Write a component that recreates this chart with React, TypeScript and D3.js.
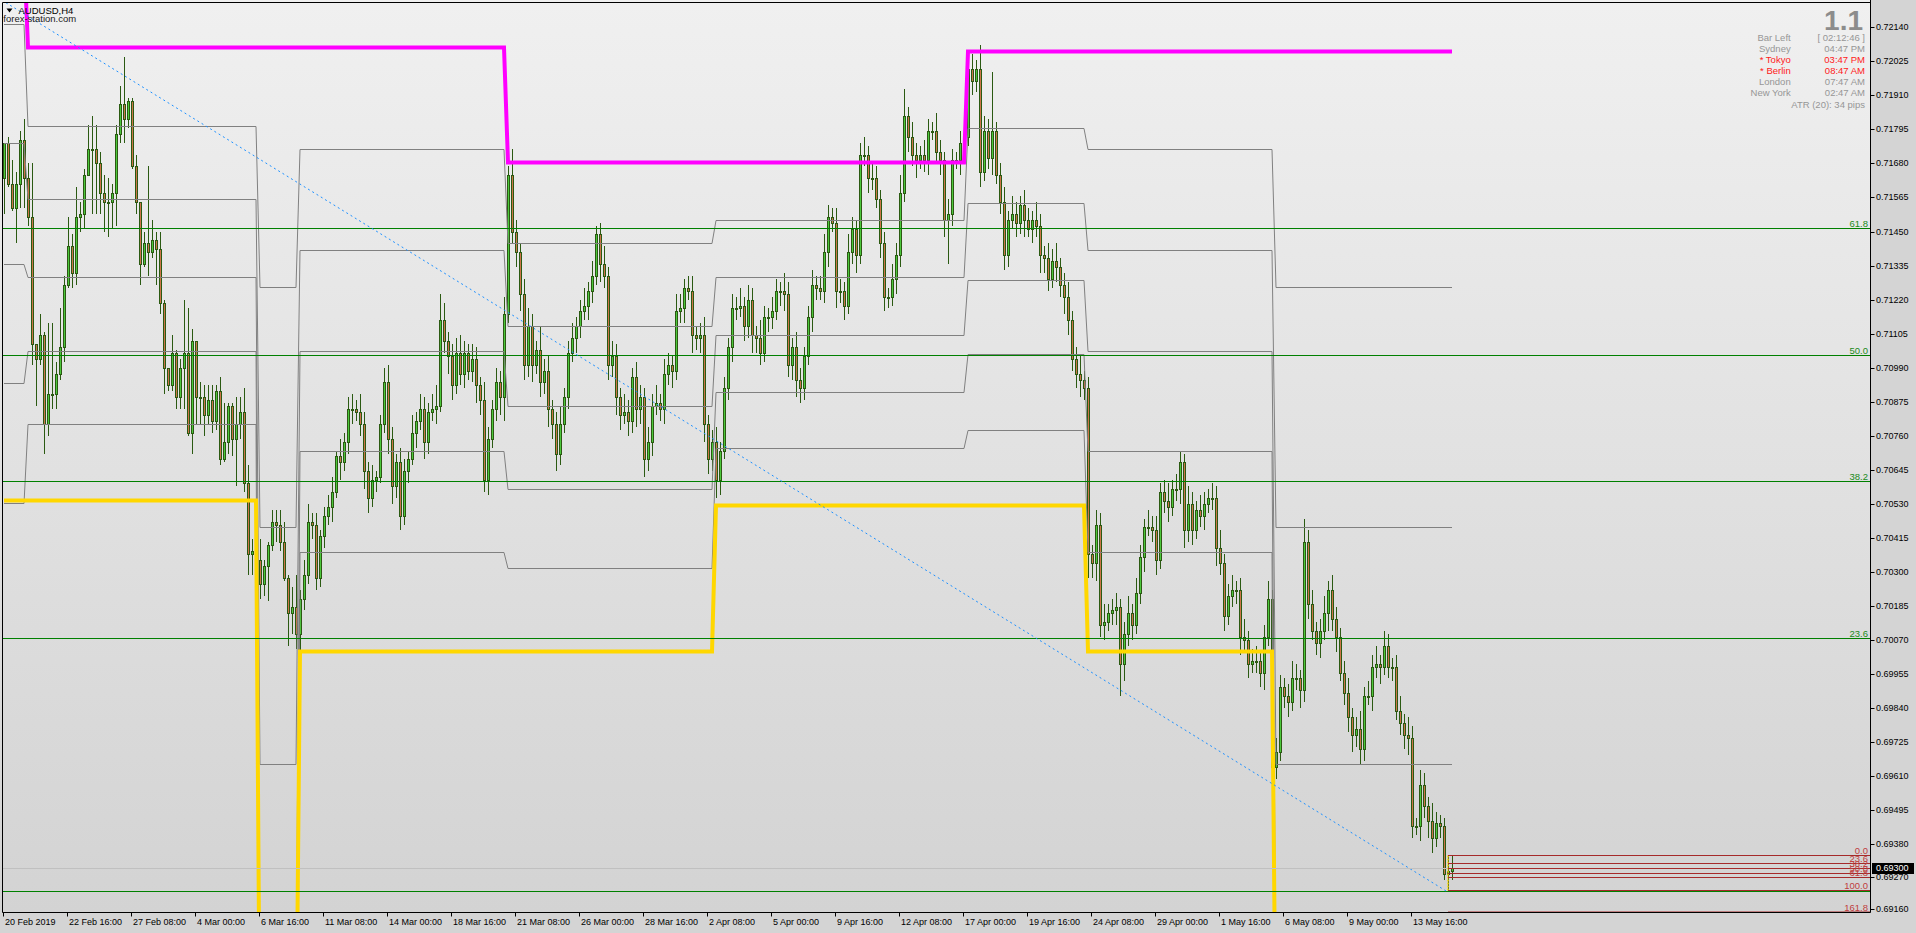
import React, { useEffect, useRef } from 'react'
import * as d3 from 'd3'

const W = 1916
const H = 933
const plot = { left: 2.5, top: 2.5, right: 1870.5, bottom: 912.5 }
const font = "'Liberation Sans', Arial, sans-serif"

// candle values are pips above BASE (AUDUSD H4)
const BASE = 0.69
const firstOpen = 263
const closes = [
  275, 261, 253, 261, 276, 263, 250, 207, 202, 210,
  180, 190, 190, 197, 206, 227, 240, 231, 250, 251,
  264, 273, 273, 268, 258, 255, 255, 258, 278, 288,
  283, 289, 267, 255, 234, 241, 238, 242, 239, 221,
  199, 193, 204, 189, 199, 204, 177, 208, 189, 189,
  183, 188, 181, 191, 168, 174, 186, 175, 180, 184,
  160, 136, 137, 134, 126, 132, 139, 147, 146, 140,
  128, 116, 118, 109, 121, 129, 147, 146, 128, 142,
  149, 152, 157, 169, 167, 174, 185, 185, 184, 180,
  164, 155, 161, 162, 180, 194, 175, 159, 167, 149,
  164, 168, 177, 181, 185, 174, 184, 185, 186, 215,
  208, 203, 193, 204, 197, 204, 198, 202, 193, 188,
  161, 175, 185, 194, 189, 217, 264, 245, 238, 224,
  200, 213, 200, 205, 194, 198, 185, 180, 170, 180,
  189, 204, 209, 213, 218, 220, 225, 230, 244, 234,
  230, 200, 203, 189, 183, 184, 181, 196, 185, 189,
  168, 174, 186, 187, 185, 197, 200, 198, 218, 219,
  226, 225, 210, 209, 210, 180, 168, 174, 161, 171,
  192, 206, 219, 219, 220, 213, 222, 210, 209, 204,
  216, 216, 218, 225, 225, 224, 200, 206, 195, 192,
  203, 216, 227, 226, 225, 238, 250, 248, 225, 225,
  220, 238, 246, 237, 271, 271, 263, 263, 256, 241,
  223, 223, 229, 237, 258, 284, 277, 271, 269, 271,
  269, 279, 279, 272, 269, 249, 251, 269, 269, 275,
  277, 300, 296, 300, 265, 279, 270, 279, 264, 255,
  237, 249, 251, 248, 254, 249, 246, 249, 247, 237,
  236, 229, 235, 233, 227, 223, 215, 202, 197, 195,
  192, 136, 133, 146, 112, 113, 116, 117, 118, 99,
  109, 116, 112, 123, 135, 145, 145, 144, 134, 157,
  154, 152, 158, 158, 167, 144, 153, 144, 151, 149,
  153, 155, 155, 138, 133, 115, 122, 124, 124, 108,
  107, 99, 100, 100, 96, 108, 121, 64, 69, 91,
  88, 86, 94, 94, 90, 140, 119, 110, 106, 110,
  116, 124, 114, 108, 96, 89, 81, 75, 77, 70,
  88, 88, 98, 99, 98, 105, 98, 98, 83, 79,
  75, 74, 44, 44, 58, 51, 46, 40, 45, 44,
  28, 29, 30
]
const wickUp = [
  0, 2, 8, 4, 3, 7, 5, 18, 0, 7, 1, 24, 24, 4, 13, 3, 10, 4, 10, 4,
  2, 8, 11, 8, 4, 6, 8, 3, 3, 6, 16, 1, 1, 4, 0, 4, 26, 7, 3, 6,
  1, 0, 6, 1, 3, 18, 15, 4, 0, 5, 4, 5, 5, 2, 5, 13, 1, 1, 9, 5,
  8, 6, 4, 3, 7, 2, 1, 4, 4, 5, 7, 1, 7, 11, 3, 5, 6, 3, 4, 2,
  3, 4, 5, 2, 6, 3, 4, 5, 3, 6, 4, 3, 5, 2, 3, 5, 6, 4, 3, 5,
  4, 3, 6, 3, 5, 4, 3, 5, 7, 9, 6, 3, 4, 5, 6, 4, 3, 5, 4, 3,
  6, 4, 3, 5, 4, 6, 3, 9, 4, 3, 5, 6, 4, 3, 8, 4, 5, 3, 4, 6,
  3, 4, 5, 3, 4, 6, 3, 5, 3, 4, 6, 3, 5, 4, 3, 6, 4, 3, 5, 4,
  3, 5, 4, 6, 3, 5, 4, 3, 6, 5, 3, 4, 5, 3, 4, 6, 3, 4, 5, 3,
  4, 3, 5, 4, 6, 3, 5, 4, 3, 6, 4, 3, 5, 4, 3, 6, 4, 3, 5, 4,
  3, 4, 5, 3, 4, 6, 4, 3, 5, 4, 3, 6, 4, 3, 4, 6, 3, 5, 4, 3,
  4, 3, 5, 4, 6, 9, 3, 5, 4, 3, 5, 4, 3, 6, 4, 3, 5, 4, 3, 4,
  6, 4, 5, 3, 8, 5, 4, 20, 3, 4, 5, 3, 6, 4, 3, 5, 4, 3, 6, 4,
  3, 5, 4, 6, 3, 4, 5, 3, 4, 6, 3, 4, 3, 5, 4, 6, 3, 4, 5, 3,
  4, 6, 3, 5, 4, 3, 6, 4, 5, 3, 4, 6, 3, 5, 4, 3, 6, 4, 3, 5,
  4, 3, 5, 4, 6, 3, 4, 5, 3, 4, 6, 3, 4, 5, 3, 4, 6, 3, 5, 4,
  3, 4, 6, 5, 3, 8, 4, 5, 3, 4, 6, 3, 5, 4, 3, 4, 5, 3, 4, 6,
  3, 5, 4, 6, 3, 5, 4, 3, 4, 5, 3, 6, 4, 3, 5, 4, 3, 6, 4, 3,
  3, 5, 4
]
const wickDown = [
  12, 1, 1, 12, 8, 10, 3, 7, 16, 2, 10, 4, 5, 5, 2, 5, 1, 5, 4, 5,
  5, 0, 22, 17, 7, 10, 12, 9, 11, 3, 8, 3, 1, 4, 7, 1, 8, 2, 12, 4,
  9, 2, 2, 4, 4, 14, 1, 7, 9, 9, 7, 3, 4, 3, 2, 1, 4, 6, 16, 5,
  3, 7, 7, 5, 5, 4, 12, 2, 6, 3, 1, 11, 7, 5, 6, 4, 3, 5, 4, 3,
  4, 3, 5, 2, 6, 3, 4, 5, 3, 4, 6, 5, 3, 4, 2, 3, 5, 6, 4, 5,
  3, 4, 2, 5, 3, 6, 4, 3, 5, 2, 4, 6, 5, 3, 4, 5, 3, 4, 6, 5,
  4, 5, 3, 4, 6, 8, 3, 4, 5, 6, 5, 4, 6, 3, 5, 4, 6, 5, 6, 4,
  3, 4, 3, 5, 4, 3, 5, 4, 3, 6, 4, 5, 4, 6, 5, 3, 5, 4, 6, 5,
  6, 4, 5, 3, 4, 5, 4, 6, 3, 4, 5, 3, 6, 4, 5, 6, 5, 4, 6, 5,
  3, 4, 5, 4, 3, 5, 4, 6, 5, 4, 3, 5, 4, 3, 5, 6, 4, 5, 6, 5,
  4, 3, 5, 4, 3, 4, 5, 3, 6, 4, 5, 3, 4, 6, 3, 4, 5, 4, 3, 5,
  5, 4, 3, 5, 4, 3, 5, 4, 6, 3, 4, 5, 3, 4, 5, 6, 15, 4, 3, 5,
  4, 3, 5, 4, 5, 3, 4, 6, 3, 4, 5, 4, 3, 5, 4, 6, 3, 5, 4, 6,
  5, 4, 3, 5, 4, 6, 5, 4, 5, 6, 4, 8, 5, 6, 4, 5, 3, 4, 5, 11,
  6, 4, 5, 3, 4, 5, 3, 4, 5, 3, 4, 5, 3, 4, 5, 6, 4, 5, 3, 4,
  5, 3, 4, 6, 4, 5, 3, 4, 5, 6, 4, 5, 3, 4, 5, 6, 3, 5, 4, 3,
  4, 5, 3, 4, 6, 4, 5, 3, 4, 5, 3, 6, 4, 5, 3, 4, 5, 6, 4, 5,
  4, 3, 5, 4, 6, 3, 4, 5, 3, 4, 5, 6, 4, 3, 5, 4, 6, 5, 3, 4,
  2, 6, 3
]

// period indicator levels (first bar of each period)
const periodStarts = [0, 6, 64, 74, 126, 178, 241, 271, 318]
const periodHigh = [0.7240, 0.72072, 0.72072, 0.72072, 0.71685, 0.71685, 0.72060, 0.72060, 0.72060]
const periodLow = [0.70543, 0.70543, 0.6860, 0.70033, 0.70033, 0.70526, 0.70526, 0.70033, 0.6860]
const band1 = [0.72150, 0.71808, 0.71263, 0.71730, 0.71412, 0.71488, 0.71800, 0.71730, 0.71263]
const band2 = [0.71748, 0.71559, 0.70452, 0.71388, 0.71130, 0.71297, 0.71548, 0.71388, 0.70452]
const band3 = [0.71339, 0.71297, 0.69651, 0.71046, 0.70861, 0.71100, 0.71287, 0.71046, 0.69651]
const band4 = [0.70939, 0.71046, 0.68840, 0.70710, 0.70579, 0.70909, 0.71036, 0.70710, 0.68840]
const band5 = [0.70533, 0.70800, 0.68030, 0.70368, 0.70312, 0.70720, 0.70780, 0.70368, 0.68030]

// fibonacci objects
const bigFibLow = 0.69222
const bigFibHigh = 0.72844
const bigFibLevels = [23.6, 38.2, 50.0, 61.8]
const smallFibHigh = 0.69343
const smallFibLow = 0.69225
const smallFibLevels = [0.0, 23.6, 38.2, 50.0, 61.8, 100.0, 161.8]
const trendFrom = { bar: -74, price: 0.72844 }
const trendTo = { bar: 360.5, price: 0.69222 }
const bidPrice = 0.693

const priceTicks = ['0.72140', '0.72025', '0.71910', '0.71795', '0.71680', '0.71565', '0.71450', '0.71335', '0.71220',
  '0.71105', '0.70990', '0.70875', '0.70760', '0.70645', '0.70530', '0.70415', '0.70300', '0.70185', '0.70070',
  '0.69955', '0.69840', '0.69725', '0.69610', '0.69495', '0.69380', '0.69270', '0.69160']
const dateLabels = ['20 Feb 2019', '22 Feb 16:00', '27 Feb 08:00', '4 Mar 00:00', '6 Mar 16:00', '11 Mar 08:00',
  '14 Mar 00:00', '18 Mar 16:00', '21 Mar 08:00', '26 Mar 00:00', '28 Mar 16:00', '2 Apr 08:00', '5 Apr 00:00',
  '9 Apr 16:00', '12 Apr 08:00', '17 Apr 00:00', '19 Apr 16:00', '24 Apr 08:00', '29 Apr 00:00', '1 May 16:00',
  '6 May 08:00', '9 May 00:00', '13 May 16:00']
const sessionNames = ['Bar Left', 'Sydney', '* Tokyo', '* Berlin', 'London', 'New York']
const sessionTimes = ['[ 02:12:46 ]', '04:47 PM', '03:47 PM', '08:47 AM', '07:47 AM', '02:47 AM']
const sessionOpen = [false, false, true, true, false, false]

function draw(el: SVGSVGElement | null) {
  if (!el) return
  const svgRoot = d3.select(el)
  svgRoot.selectAll('*').remove()

  const n = closes.length
  const x = d3.scaleLinear().domain([0, n - 1]).range([4, 1452])
  const y = d3.scaleLinear().domain([0.6916, 0.7214]).range([909.3, 27.3])
  const px = (p: number) => BASE + p / 10000
  const crisp = (v: number) => Math.round(v) + 0.5

  const defs = svgRoot.append('defs')
  const grad = defs.append('linearGradient').attr('id', 'bg').attr('x1', 0).attr('y1', 0).attr('x2', 0).attr('y2', 1)
  grad.append('stop').attr('offset', '0%').attr('stop-color', '#f0f0f0')
  grad.append('stop').attr('offset', '100%').attr('stop-color', '#d3d3d3')
  defs.append('clipPath').attr('id', 'plotClip').append('rect')
    .attr('x', plot.left).attr('y', plot.top)
    .attr('width', plot.right - plot.left).attr('height', plot.bottom - plot.top)

  svgRoot.append('rect').attr('width', W).attr('height', H).attr('fill', '#d4d4d4')
  svgRoot.append('rect').attr('width', plot.right).attr('height', plot.bottom).attr('fill', 'url(#bg)')

  const g = svgRoot.append('g').attr('clip-path', 'url(#plotClip)')

  // candles
  const bars = closes.map((c, i) => {
    const o = i === 0 ? firstOpen : closes[i - 1]
    const hi = Math.max(o, c) + (wickUp[i] ?? 3)
    const lo = Math.min(o, c) - (wickDown[i] ?? 3)
    return { i, o: px(o), c: px(c), h: px(hi), l: px(lo) }
  })
  const cg = g.append('g')
  cg.selectAll('line.wick').data(bars).enter().append('line')
    .attr('x1', d => Math.round(x(d.i)) + 0.5).attr('x2', d => Math.round(x(d.i)) + 0.5)
    .attr('y1', d => Math.round(y(d.h))).attr('y2', d => Math.round(y(d.l)))
    .attr('stroke', '#2b5a12').attr('stroke-width', 1)
  cg.selectAll('rect.body').data(bars).enter().append('rect')
    .attr('x', d => Math.round(x(d.i)) - 0.5)
    .attr('y', d => Math.round(y(Math.max(d.o, d.c))) + 0.5)
    .attr('width', 2)
    .attr('height', d => Math.max(1, Math.round(y(Math.min(d.o, d.c))) - Math.round(y(Math.max(d.o, d.c)))))
    .attr('fill', d => (d.c >= d.o ? '#4cc83c' : '#cc7448'))
    .attr('stroke', '#2b5a12').attr('stroke-width', 1)

  // period step lines
  const periodOf = (i: number) => d3.bisectRight(periodStarts, i) - 1
  const idx = d3.range(n)
  const stepLine = (levels: number[]) =>
    d3.line<number>().x(i => x(i)).y(i => crisp(y(levels[periodOf(i)])))(idx)

  ;[band1, band2, band3, band4, band5].forEach(b => {
    g.append('path').attr('d', stepLine(b)).attr('fill', 'none').attr('stroke', '#808080').attr('stroke-width', 1)
  })
  g.append('path').attr('d', stepLine(periodLow)).attr('fill', 'none').attr('stroke', '#ffd700').attr('stroke-width', 4)
  g.append('path').attr('d', stepLine(periodHigh)).attr('fill', 'none').attr('stroke', '#ff00ff').attr('stroke-width', 4)

  // big fibonacci (green)
  const bigY = (lv: number) => crisp(y(bigFibLow + (bigFibHigh - bigFibLow) * lv / 100))
  g.append('line').attr('x1', plot.left).attr('x2', plot.right).attr('y1', bigY(0)).attr('y2', bigY(0))
    .attr('stroke', '#008000')
  g.selectAll('line.bigfib').data(bigFibLevels).enter().append('line')
    .attr('x1', plot.left).attr('x2', plot.right)
    .attr('y1', d => bigY(d)).attr('y2', d => bigY(d))
    .attr('stroke', '#008000').attr('stroke-width', 1)
  g.selectAll('text.bigfib').data(bigFibLevels).enter().append('text')
    .attr('x', 1868).attr('y', d => bigY(d) - 2)
    .attr('text-anchor', 'end').attr('font-family', font).attr('font-size', 9.5)
    .attr('fill', '#208a20').text(d => d.toFixed(1))

  // trend line
  g.append('line')
    .attr('x1', x(trendFrom.bar)).attr('y1', y(trendFrom.price))
    .attr('x2', x(trendTo.bar)).attr('y2', y(trendTo.price))
    .attr('stroke', '#1e90ff').attr('stroke-width', 1).attr('stroke-dasharray', '2,3')

  // bid line
  g.append('line').attr('x1', plot.left).attr('x2', plot.right)
    .attr('y1', crisp(y(bidPrice))).attr('y2', crisp(y(bidPrice)))
    .attr('stroke', '#c0c0c0').attr('stroke-width', 1)

  // small fibonacci (red)
  const smallY = (lv: number) => crisp(y(smallFibHigh - (smallFibHigh - smallFibLow) * lv / 100))
  const sx = x(n - 2)
  g.append('line').attr('x1', sx).attr('x2', sx).attr('y1', smallY(0)).attr('y2', smallY(100))
    .attr('stroke', '#ffd700').attr('stroke-width', 1.5).attr('stroke-dasharray', '2,1')
  g.selectAll('line.smallfib').data(smallFibLevels).enter().append('line')
    .attr('x1', sx).attr('x2', plot.right)
    .attr('y1', d => smallY(d)).attr('y2', d => smallY(d))
    .attr('stroke', '#a52a2a').attr('stroke-width', d => (d === 161.8 ? 2 : 1))
  g.selectAll('text.smallfib').data(smallFibLevels).enter().append('text')
    .attr('x', 1868).attr('y', d => smallY(d) - 2)
    .attr('text-anchor', 'end').attr('font-family', font).attr('font-size', 9.5)
    .attr('fill', '#c04040').text(d => d.toFixed(1))

  // frame
  svgRoot.append('path')
    .attr('d', `M${plot.right},${plot.bottom}H${plot.left}V${plot.top}H${plot.right}`)
    .attr('fill', 'none').attr('stroke', '#000').attr('stroke-width', 1)
  svgRoot.append('line').attr('x1', plot.right).attr('x2', plot.right).attr('y1', 0).attr('y2', plot.bottom)
    .attr('stroke', '#000').attr('stroke-width', 1)

  // price axis
  const ax = svgRoot.append('g')
  priceTicks.forEach(t => {
    const ty = crisp(y(+t))
    ax.append('line').attr('x1', plot.right).attr('x2', plot.right + 4).attr('y1', ty).attr('y2', ty).attr('stroke', '#000')
    ax.append('text').attr('x', 1876).attr('y', ty).attr('dominant-baseline', 'middle')
      .attr('font-family', font).attr('font-size', 9).attr('fill', '#000').text(t)
  })
  const by = crisp(y(bidPrice))
  ax.append('rect').attr('x', 1872).attr('y', by - 5.5).attr('width', 42).attr('height', 11).attr('fill', '#000')
  ax.append('text').attr('x', 1876).attr('y', by).attr('dominant-baseline', 'middle')
    .attr('font-family', font).attr('font-size', 9).attr('fill', '#fff').text(bidPrice.toFixed(5))

  // time axis
  dateLabels.forEach((t, k) => {
    const tx = Math.round(x(k * 16)) - 0.5
    ax.append('line').attr('x1', tx).attr('x2', tx).attr('y1', plot.bottom).attr('y2', plot.bottom + 4).attr('stroke', '#000')
    ax.append('text').attr('x', tx + 1.5).attr('y', 922.5).attr('dominant-baseline', 'middle')
      .attr('font-family', font).attr('font-size', 9).attr('fill', '#000').text(t)
  })

  // title
  svgRoot.append('path').attr('d', 'M6.5,8.5 L12.5,8.5 L9.5,12.5 Z').attr('fill', '#000')
  svgRoot.append('text').attr('x', 18.5).attr('y', 11).attr('dominant-baseline', 'middle')
    .attr('font-family', font).attr('font-size', 9.5).attr('fill', '#000').text('AUDUSD,H4')
  svgRoot.append('text').attr('x', 3.3).attr('y', 19).attr('dominant-baseline', 'middle')
    .attr('font-family', font).attr('font-size', 9.5).attr('fill', '#202020').text('forex-station.com')

  // info panel
  svgRoot.append('text').attr('x', 1863).attr('y', 30).attr('text-anchor', 'end')
    .attr('font-family', font).attr('font-size', 28).attr('font-weight', 'bold').attr('fill', '#8c8c8c').text('1.1')
  sessionNames.forEach((s, k) => {
    const ry = 38.7 + k * 11
    const col = sessionOpen[k] ? '#ff2020' : '#969696'
    svgRoot.append('text').attr('x', 1790.7).attr('y', ry).attr('dominant-baseline', 'middle').attr('text-anchor', 'end')
      .attr('font-family', font).attr('font-size', 9.5).attr('fill', col).text(s)
    svgRoot.append('text').attr('x', 1865).attr('y', ry).attr('dominant-baseline', 'middle').attr('text-anchor', 'end')
      .attr('font-family', font).attr('font-size', 9.5).attr('fill', col).text(sessionTimes[k])
  })
  svgRoot.append('text').attr('x', 1865).attr('y', 105).attr('dominant-baseline', 'middle').attr('text-anchor', 'end')
    .attr('font-family', font).attr('font-size', 9.5).attr('fill', '#969696').text('ATR (20): 34 pips')
}

export default function App() {
  const ref = useRef<SVGSVGElement>(null)
  useEffect(() => {
    document.body.style.margin = '0'
    draw(ref.current)
  }, [])
  return (
    <div style={{ position: 'absolute', left: 0, top: 0, width: W, height: H, overflow: 'hidden' }}>
      <svg ref={ref} width={W} height={H} style={{ display: 'block' }} />
    </div>
  )
}
